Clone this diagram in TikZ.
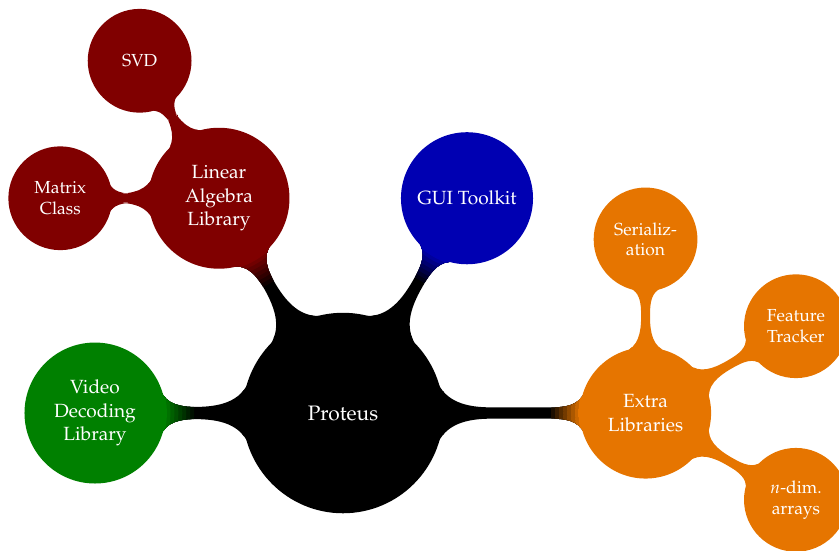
\documentclass[tikz,border=0pt]{standalone}
\usepackage[T1]{fontenc}
\usepackage{mathpazo}
\usetikzlibrary{mindmap,backgrounds,calc}
\definecolor{cgreen}{RGB}{0,128,0}
\definecolor{cred}{RGB}{128,0,0}
\definecolor{cblue}{RGB}{0,0,178}
\definecolor{corange}{RGB}{230,117,0}
% bar from parent #1 (colour #5) to child #2 (colour #3, radius #4), colour switch near the child
\newcommand\mybar[5]{%
  \path (#1) to[circle connection bar switch color=from (#5) to (#5)] (#2);
  \foreach \d/\m in {0.60/12,0.52/25,0.44/38,0.36/50,0.28/63,0.20/75,0.12/88,0.05/100}{%
    \begin{scope}
      \clip (#2) circle ({#4+\d});
      \path (#1) to[circle connection bar switch color=from (#3!\m!#5) to (#3!\m!#5)] (#2);
    \end{scope}}%
}
\begin{document}
\begin{tikzpicture}[mindmap, text=white,
  cnode/.style={concept, text width={}, align=center, inner sep=0pt, text=white},
  rootnode/.style={cnode, concept color=black, fill=black, minimum size=4cm, font=\fontsize{12}{14.5}\selectfont},
  lone/.style={cnode, minimum size=2.8cm, font=\fontsize{10.95}{13.6}\selectfont},
  ltwo/.style={cnode, minimum size=2.05cm, font=\fontsize{10}{12}\selectfont}]
  \useasboundingbox (-6.915,-2.762) rectangle (10.0,8.327);

  \node[rootnode] (root) at (0,0) {Proteus};
  \node[lone, concept color=cgreen, fill=cgreen] (video) at (180:5) {Video\\Decoding\\Library};
  \node[lone, concept color=cred, fill=cred] (linalg) at (120:5) {Linear\\Algebra\\Library};
  \node[lone, concept color=cblue, fill=cblue, minimum size=2.62cm] (gui) at (60:5) {GUI Toolkit};
  \node[lone, concept color=corange, fill=corange, minimum size=2.6cm] (extra) at (6.1,0) {Extra\\Libraries};

  \node[ltwo, concept color=cred, fill=cred] (svd) at ($(linalg)+(120:3.2)$) {SVD};
  \node[ltwo, concept color=cred, fill=cred] (matrix) at ($(linalg)+(180:3.2)$) {Matrix\\Class};
  \node[ltwo, concept color=corange, fill=corange] (serial) at ($(extra)+(90:3.5)$) {Serializ-\\ation};
  \node[ltwo, concept color=corange, fill=corange] (feature) at ($(extra)+(30:3.5)$) {Feature\\Tracker};
  \node[ltwo, concept color=corange, fill=corange] (ndim) at ($(extra)+(-30:3.5)$) {$n$-dim.\\arrays};

  \begin{scope}[on background layer]
    \mybar{root}{video}{cgreen}{1.4}{black}
    \mybar{root}{linalg}{cred}{1.4}{black}
    \mybar{root}{gui}{cblue}{1.31}{black}
    \mybar{root}{extra}{corange}{1.3}{black}
    \path (linalg) to[circle connection bar switch color=from (cred) to (cred)] (svd);
    \path (linalg) to[circle connection bar switch color=from (cred) to (cred)] (matrix);
    \path (extra) to[circle connection bar switch color=from (corange) to (corange)] (serial);
    \path (extra) to[circle connection bar switch color=from (corange) to (corange)] (feature);
    \path (extra) to[circle connection bar switch color=from (corange) to (corange)] (ndim);
  \end{scope}
\end{tikzpicture}
\end{document}
